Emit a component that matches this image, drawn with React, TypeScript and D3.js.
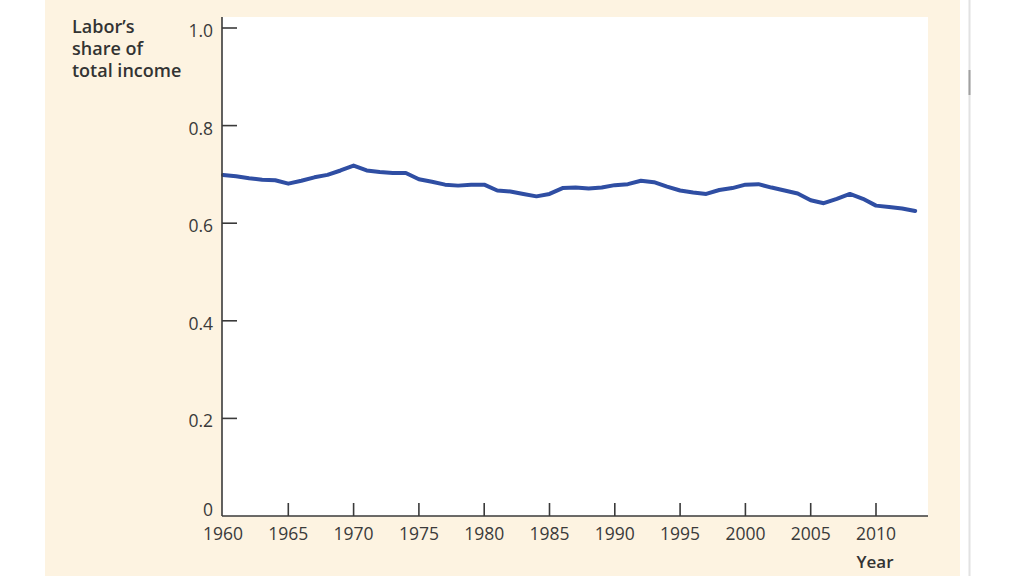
import React from "react";
import * as d3 from "d3";

const years = d3.range(1960, 2014);
const laborShare = [
  0.699, 0.696, 0.692, 0.689, 0.688, 0.681, 0.687, 0.694, 0.699, 0.708,
  0.718, 0.708, 0.705, 0.703, 0.703, 0.690, 0.685, 0.679, 0.677, 0.679,
  0.679, 0.667, 0.665, 0.660, 0.655, 0.660, 0.672, 0.673, 0.671, 0.673,
  0.678, 0.680, 0.687, 0.684, 0.675, 0.667, 0.663, 0.660, 0.668, 0.672,
  0.679, 0.680, 0.673, 0.667, 0.661, 0.647, 0.641, 0.650, 0.660, 0.650,
  0.636, 0.633, 0.630, 0.625,
];
const yTicks = [0, 0.2, 0.4, 0.6, 0.8, 1.0];
const yTickLabels = ["0", "0.2", "0.4", "0.6", "0.8", "1.0"];
const xTicks = [1960, 1965, 1970, 1975, 1980, 1985, 1990, 1995, 2000, 2005, 2010];
const yTitle = ["Labor’s", "share of", "total income"];
const xTitle = "Year";

export default function App() {
  const W = 1024, H = 576;
  const left = 222, right = 928, top = 17, bottom = 516;
  const x = d3.scaleLinear().domain([1960, 2010]).range([223, 876]);
  const y = d3.scaleLinear().domain([0, 1]).range([bottom, 28]);
  const line = d3.line<number>().x((_, i) => x(years[i])).y((d) => y(d));
  const font = "'Open Sans', 'DejaVu Sans', sans-serif";
  const axisColor = "#3a3a3a";
  const textColor = "#3a3a3a";
  return (
    <svg width={W} height={H} style={{ position: "absolute", left: 0, top: 0 }}>
      <rect x={0} y={0} width={W} height={H} fill="#ffffff" />
      <rect x={45} y={0} width={915} height={H} fill="#fdf3e1" />
      <rect x={left} y={top} width={right - left} height={bottom - top} fill="#ffffff" />
      <line x1={969.5} x2={969.5} y1={0} y2={H} stroke="#e2e2e2" strokeWidth={2} />
      <line x1={969.5} x2={969.5} y1={70} y2={95} stroke="#a0a0a0" strokeWidth={2} />
      <path d={line(laborShare) || ""} fill="none" stroke="#2f4ea3" strokeWidth={4} strokeLinejoin="round" strokeLinecap="round" />
      <line x1={left} x2={left} y1={top} y2={bottom} stroke={axisColor} strokeWidth={1.6} />
      <line x1={left} x2={right} y1={bottom} y2={bottom} stroke={axisColor} strokeWidth={1.6} />
      {yTicks.map((t, i) => (
        <g key={"y" + i}>
          {t > 0 && <line x1={left} x2={left + 15} y1={y(t)} y2={y(t)} stroke={axisColor} strokeWidth={1.6} />}
          <text x={213} y={t > 0 ? y(t) + 9 : y(t)} textAnchor="end" fontFamily={font} fontSize={17.5} fill={textColor}>
            {yTickLabels[i]}
          </text>
        </g>
      ))}
      {xTicks.map((t) => (
        <g key={"x" + t}>
          {t > 1960 && <line x1={x(t)} x2={x(t)} y1={bottom} y2={bottom - 13} stroke={axisColor} strokeWidth={1.6} />}
          <text x={x(t)} y={540} textAnchor="middle" fontFamily={font} fontSize={17.5} fill={textColor}>
            {t}
          </text>
        </g>
      ))}
      {yTitle.map((s, i) => (
        <text key={s} x={72} y={33 + i * 22} fontFamily={font} fontSize={18} fontWeight={600} fill="#333">
          {s}
        </text>
      ))}
      <text x={875} y={568} textAnchor="middle" fontFamily={font} fontSize={17} fontWeight={600} fill="#333">
        {xTitle}
      </text>
    </svg>
  );
}
